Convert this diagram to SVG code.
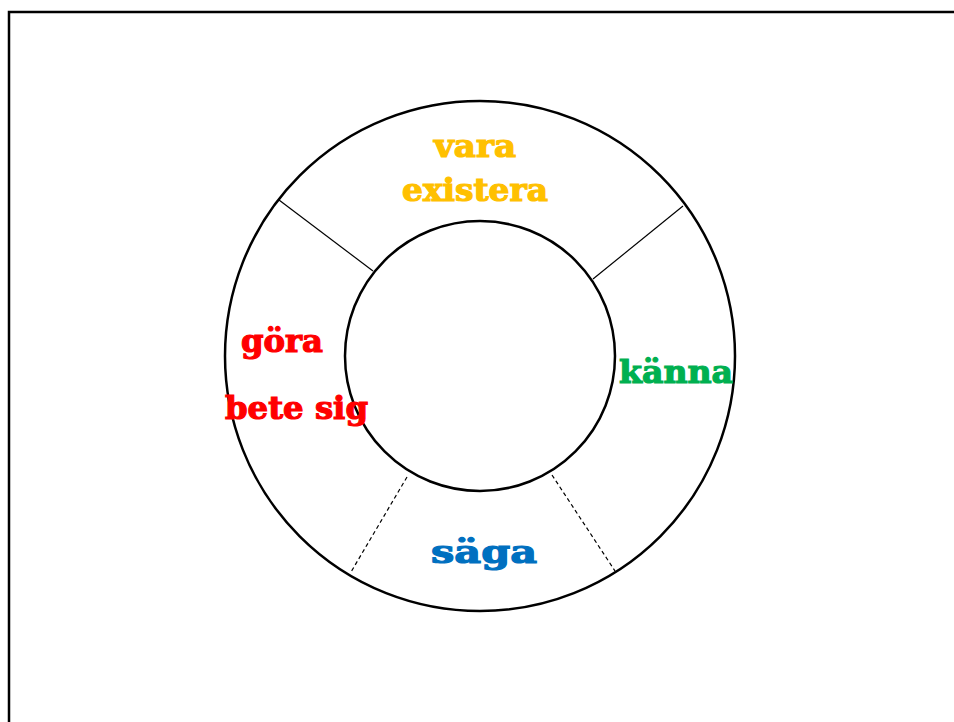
<svg xmlns="http://www.w3.org/2000/svg" width="954" height="722" viewBox="0 0 954 722">
<style>
.lbl{font-family:"DejaVu Serif","Liberation Serif",serif;font-weight:bold;font-size:32px;stroke-width:1.2;paint-order:stroke}
.ring{fill:none;stroke:#000;stroke-width:2.5}
.sep{stroke:#000;stroke-width:1.2}
.dash{stroke:#000;stroke-width:1.2;stroke-dasharray:4,3}
</style>
<rect x="0" y="0" width="954" height="722" fill="#fff"/>
<path d="M9,722 V12 H954" fill="none" stroke="#000" stroke-width="2.5"/>
<g id="outer"><circle class="ring" cx="480" cy="356" r="255"/></g>
<g id="inner"><circle class="ring" cx="480" cy="356" r="135"/></g>
<g id="connectors">
<line class="sep" x1="279" y1="200" x2="373" y2="271"/>
<line class="sep" x1="683" y1="206" x2="593" y2="279"/>
<line class="dash" x1="407" y1="477" x2="351" y2="572"/>
<line class="dash" x1="552" y1="475" x2="615" y2="571"/>
</g>
<g id="vara"><text class="lbl" x="434" y="157" fill="#FFC000" stroke="#FFC000" textLength="82" lengthAdjust="spacingAndGlyphs">vara</text>
<text class="lbl" x="402" y="201" fill="#FFC000" stroke="#FFC000" textLength="146" lengthAdjust="spacingAndGlyphs">existera</text></g>
<g id="gora"><text class="lbl" x="241" y="352" fill="#FF0000" stroke="#FF0000" textLength="82" lengthAdjust="spacingAndGlyphs">göra</text>
<text class="lbl" x="225" y="419" fill="#FF0000" stroke="#FF0000" textLength="143" lengthAdjust="spacingAndGlyphs">bete sig</text></g>
<g id="kanna"><text class="lbl" x="619" y="383" fill="#00B050" stroke="#00B050" textLength="114" lengthAdjust="spacingAndGlyphs">känna</text></g>
<g id="saga"><text class="lbl" x="431" y="563" fill="#0070C0" stroke="#0070C0" textLength="106" lengthAdjust="spacingAndGlyphs">säga</text></g>
</svg>
